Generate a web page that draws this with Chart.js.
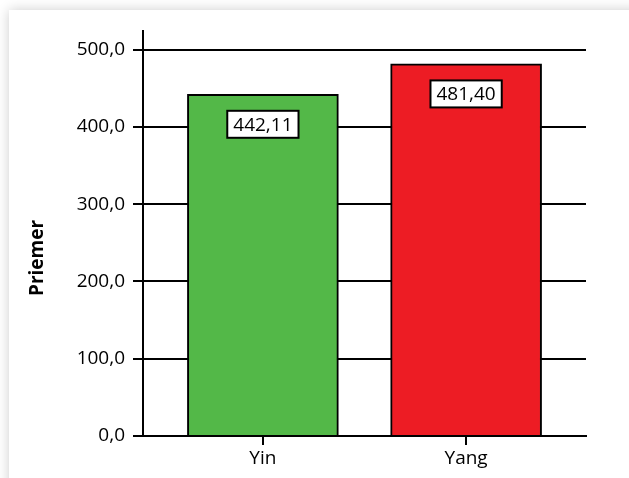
<!DOCTYPE html>
<html>
<head>
<meta charset="utf-8">
<script src="https://cdn.jsdelivr.net/npm/chart.js@4/dist/chart.umd.min.js"></script>
<style>
    html, body { margin: 0; padding: 0; width: 629px; height: 478px; overflow: hidden; background: #ffffff; }
    #card { position: absolute; left: 9px; top: 10px; width: 700px; height: 600px; background: #ffffff; box-shadow: 0 0 12px rgba(0, 0, 0, 0.2); }
    #chartPriemer { position: absolute; left: 0; top: 0; }
</style>
</head>
<body>
<div id="card"></div>
<canvas id="chartPriemer" width="629" height="478"></canvas>
<script>
var categories = ['Yin', 'Yang'];
var priemerValues = [442.11, 481.40];
var yTickValues = [0, 100, 200, 300, 400, 500];
var barColors = ['#53b848', '#ed1c24'];

function formatComma(value, digits) {
    return value.toFixed(digits).replace('.', ',');
}

// white boxes with the value inside each bar
var valueBoxes = {
    id: 'valueBoxes',
    afterDatasetsDraw: function (chart) {
        var ctx = chart.ctx;
        var meta = chart.getDatasetMeta(0);
        ctx.save();
        ctx.font = '19px "Open Sans"';
        ctx.textAlign = 'center';
        ctx.textBaseline = 'middle';
        meta.data.forEach(function (bar, i) {
            var text = formatComma(priemerValues[i], 2);
            var w = ctx.measureText(text).width + 12;
            var h = 27;
            var cy = bar.y + 30;
            ctx.fillStyle = '#ffffff';
            ctx.fillRect(bar.x - w / 2, cy - h / 2, w, h);
            ctx.lineWidth = 2;
            ctx.strokeStyle = '#000000';
            ctx.strokeRect(bar.x - w / 2, cy - h / 2, w, h);
            ctx.fillStyle = '#000000';
            ctx.fillText(text, bar.x, cy + 1);
        });
        ctx.restore();
    }
};

// axis title, sits a bit lower than the middle of the plot
var yTitle = {
    id: 'yTitle',
    afterDraw: function (chart) {
        var ctx = chart.ctx;
        ctx.save();
        ctx.translate(38, 258);
        ctx.rotate(-Math.PI / 2);
        ctx.font = 'bold 19px "Open Sans"';
        ctx.fillStyle = '#000000';
        ctx.textAlign = 'center';
        ctx.textBaseline = 'middle';
        ctx.fillText('Priemer', 0, 0);
        ctx.restore();
    }
};

var ctx = document.getElementById('chartPriemer').getContext('2d');
var chartPriemer = new Chart(ctx, {
    type: 'bar',
    data: {
        datasets: [{
            data: priemerValues.map(function (v, i) { return { x: i, y: v }; }),
            backgroundColor: barColors,
            borderColor: '#000000',
            borderWidth: 2,
            barThickness: 151
        }]
    },
    plugins: [valueBoxes, yTitle],
    options: {
        responsive: false,
        animation: false,
        layout: { padding: { top: 31, right: 43, left: 0, bottom: 0 } },
        plugins: {
            legend: { display: false },
            tooltip: { enabled: false }
        },
        scales: {
            x: {
                type: 'linear',
                offset: false,
                min: -0.59,
                max: 1.59,
                afterBuildTicks: function (scale) {
                    scale.ticks = categories.map(function (c, i) { return { value: i }; });
                },
                afterFit: function (scale) { scale.height = 42; },
                ticks: {
                    color: '#000000',
                    font: { family: 'Open Sans', size: 19 },
                    padding: 2,
                    callback: function (value) { return categories[value]; }
                },
                grid: { offset: false, drawOnChartArea: false, drawTicks: true, tickLength: 9, color: '#000000', lineWidth: 2 },
                border: { display: true, color: '#000000', width: 2 }
            },
            y: {
                min: 0,
                max: 524,
                afterBuildTicks: function (scale) {
                    scale.ticks = yTickValues.map(function (v) { return { value: v }; });
                },
                afterFit: function (scale) { scale.width = 143; },
                ticks: {
                    color: '#000000',
                    font: { family: 'Open Sans', size: 19 },
                    padding: 8,
                    callback: function (value) { return formatComma(value, 1); }
                },
                grid: { color: '#000000', lineWidth: 2, tickLength: 10 },
                border: { display: true, color: '#000000', width: 2 }
            }
        }
    }
});
</script>
</body>
</html>
